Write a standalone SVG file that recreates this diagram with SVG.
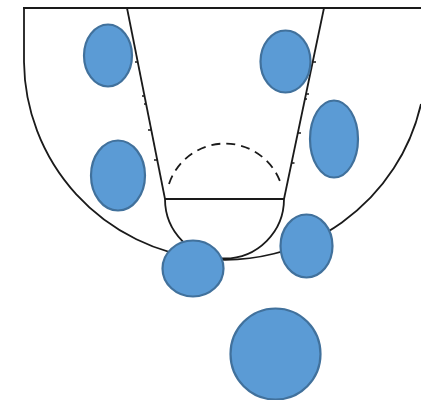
<svg xmlns="http://www.w3.org/2000/svg" width="421" height="400" viewBox="0 0 421 400">
<style>
.court{fill:none;stroke:#1a1a1a;stroke-width:1.8}
.tick{fill:none;stroke:#1a1a1a;stroke-width:1.5}
.player{fill:#5B9BD5;stroke:#41719C;stroke-width:2.2}
</style>
<rect width="421" height="400" fill="#fff"/>
<g id="court">
<path class="court" d="M23 8 H421" stroke-width="2.4"/>
<path class="court" d="M24 8 V62" stroke-width="2.6"/>
<path class="court" d="M24 62 A201 200 0 0 0 421 104"/>
<path class="court" d="M127 8 L165 199"/>
<path class="court" d="M324 8 L284 199"/>
<path class="court" d="M165 199 H284" stroke-width="2.4"/>
<path class="court" d="M165 199 A59 59 0 0 0 284 199"/>
<path class="court" d="M169 184 A59 59 0 0 1 281 184" stroke-dasharray="9 6"/>
<path class="tick" d="M138 62 h-3 M145 96 h-3 M146 104 h-2 M151 130 h-3 M157 160 h-3"/>
<path class="tick" d="M313 62 h3 M306 94 h3 M305 99 h2 M298 133 h3 M291.5 163 h3"/>
</g>
<g id="players">
<ellipse id="p1" class="player" cx="108" cy="55.5" rx="24" ry="31"/>
<ellipse id="p2" class="player" cx="118" cy="175.5" rx="27" ry="35"/>
<ellipse id="p3" class="player" cx="285.5" cy="61.5" rx="25" ry="31"/>
<ellipse id="p4" class="player" cx="334" cy="139" rx="24" ry="38.5"/>
<ellipse id="p5" class="player" cx="193" cy="268.5" rx="30.5" ry="28"/>
<ellipse id="p6" class="player" cx="306.5" cy="246" rx="26" ry="31.5"/>
<ellipse id="p7" class="player" cx="275.5" cy="354" rx="45" ry="45.5"/>
</g>
</svg>
